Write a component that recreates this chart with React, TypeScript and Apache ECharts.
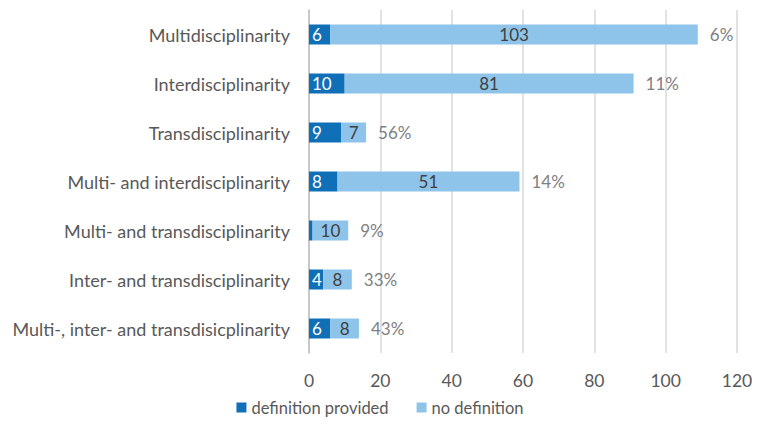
import React, { useEffect, useRef } from "react";
import * as echarts from "echarts";

const categories = [
  "Multidisciplinarity",
  "Interdisciplinarity",
  "Transdisciplinarity",
  "Multi- and interdisciplinarity",
  "Multi- and transdisciplinarity",
  "Inter- and transdisciplinarity",
  "Multi-, inter- and transdisicplinarity",
];
const definitionProvided = [6, 10, 9, 8, 1, 4, 6];
const noDefinition = [103, 81, 7, 51, 10, 8, 8];
const percentLabels = ["6%", "11%", "56%", "14%", "9%", "33%", "43%"];
const xTicks = [0, 20, 40, 60, 80, 100, 120];

const FONT = "Lato, 'Open Sans', sans-serif";

export default function App() {
  const ref = useRef<HTMLDivElement>(null);
  useEffect(() => {
    if (!ref.current) return;
    const chart = echarts.init(ref.current, undefined, { renderer: "svg" });
    const cats = [...categories].reverse();
    const dp = [...definitionProvided].reverse();
    const nd = [...noDefinition].reverse();
    const pl = [...percentLabels].reverse();
    chart.setOption({
      animation: false,
      textStyle: { fontFamily: FONT },
      grid: { left: 309, right: 23, top: 10, bottom: 87, containLabel: false },
      legend: {
        bottom: 19,
        left: "center",
        itemWidth: 10,
        itemHeight: 10,
        itemGap: 28,
        icon: "rect",
        textStyle: { color: "#595959", fontSize: 16.5, fontFamily: FONT },
        data: ["definition provided", "no definition"],
      },
      xAxis: {
        type: "value",
        min: xTicks[0],
        max: xTicks[xTicks.length - 1],
        interval: 20,
        axisLine: { show: false },
        axisTick: { show: false },
        splitLine: { show: true, lineStyle: { color: "#d9d9d9", width: 1.5 } },
        axisLabel: { color: "#595959", fontSize: 17.5, margin: 18, fontFamily: FONT },
      },
      yAxis: {
        type: "category",
        data: cats,
        axisLine: { show: true, lineStyle: { color: "#bfbfbf", width: 1.5 } },
        axisTick: { show: false },
        axisLabel: { color: "#595959", fontSize: 18, margin: 19, fontFamily: FONT },
      },
      series: [
        {
          name: "definition provided",
          type: "bar",
          stack: "total",
          data: dp,
          barWidth: 20,
          itemStyle: { color: "#0F6FB7" },
          label: {
            show: true,
            position: "insideLeft",
            distance: 3,
            color: "#ffffff",
            fontSize: 17,
            fontFamily: FONT,
            formatter: (p: any) => (p.value > 1 ? String(p.value) : ""),
          },
        },
        {
          name: "no definition",
          type: "bar",
          stack: "total",
          data: nd,
          barWidth: 20,
          itemStyle: { color: "#8EC4E9" },
          label: {
            show: true,
            position: "inside",
            color: "#404040",
            fontSize: 17,
            fontFamily: FONT,
          },
        },
        {
          name: "pct",
          type: "bar",
          stack: "total",
          data: nd.map(() => 0),
          barWidth: 20,
          itemStyle: { color: "transparent" },
          label: {
            show: true,
            position: "right",
            distance: 12,
            color: "#808080",
            fontSize: 17,
            fontFamily: FONT,
            formatter: (p: any) => pl[p.dataIndex],
          },
        },
      ],
    });
    return () => chart.dispose();
  }, []);
  return <div ref={ref} style={{ width: 760, height: 440, margin: -8 }} />;
}
